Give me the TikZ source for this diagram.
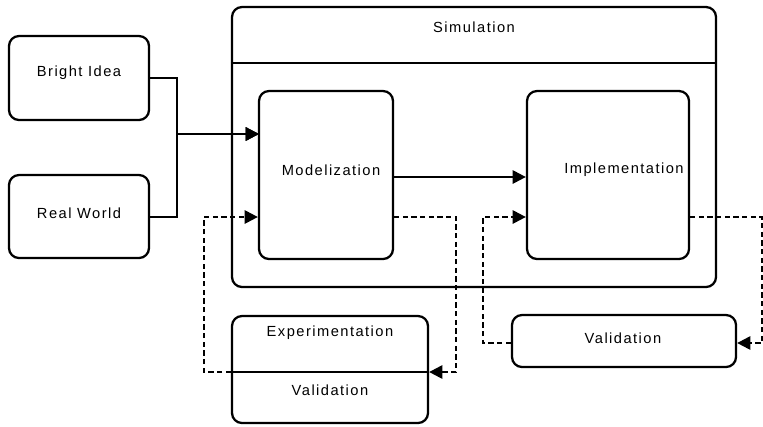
\documentclass[tikz,border=0pt]{standalone}
\usepackage{fontspec}
\setmainfont{Liberation Sans}[LetterSpace=10]
\usetikzlibrary{arrows.meta,calc}
\usetikzlibrary{positioning}
\definecolor{fg}{rgb}{0,0,0}
\tikzstyle{box}=[draw=fg, line width=1.7pt, rounded corners=7.5pt,
anchor=center, text centered, text=fg, font=\fontsize{11}{13}\selectfont]
\tikzstyle{lbl}=[text=fg, font=\fontsize{11}{13}\selectfont]
\tikzstyle{myarrow}=[-{Triangle[length=10pt,width=10pt]}, line width=1.7pt]
\tikzstyle{loop}=[myarrow, dash pattern=on 4pt off 2.5pt]

\begin{document}
\begin{tikzpicture}[x=0.75pt, y=-0.75pt]
    \useasboundingbox (0,0) rectangle (763,426);

    \node[box, minimum width=105pt, minimum height=63pt] (bright) at (79,78) {};
    \node[lbl] (brightlbl) at (79,73) {Bright Idea};
    \node[box, minimum width=105pt, minimum height=62.25pt] (real) at (79,216.5) {};
    \node[lbl] (reallbl) at (79,213) {Real World};

    % simulation container
    \node[box, minimum width=363pt, minimum height=210pt] (sim) at (474,147) {};
    \node[lbl] (simlbl) at (474,27) {Simulation};
    \coordinate (simline) at (474,63);
    \draw[line width=1.7pt] (sim.west |- simline) -- (sim.east |- simline);

    \node[box, minimum width=100.5pt, minimum height=126pt] (model) at (326,175) {};
    \node[lbl] (modellbl) at (331,170) {Modelization};
    \node[box, minimum width=121.5pt, minimum height=126pt] (impl) at (608,175) {};
    \node[lbl] (impllbl) at (624,170) {Implementation};

    % validation boxes
    \node[box, minimum width=147pt, minimum height=80.25pt] (exper) at (330,369.5) {};
    \node[lbl] (experlbl) at (330,333) {Experimentation};
    \node[lbl] (expvallbl) at (330,390) {Validation};
    \coordinate (expline) at (330,372);
    \draw[line width=1.7pt] (exper.west |- expline) -- (exper.east |- expline);
    \node[box, minimum width=168pt, minimum height=39pt] (valid) at (624,341) {};
    \node[lbl] (validlbl) at (623,338) {Validation};

    % inputs
    \coordinate (modelin) at (259,134);
    \draw[myarrow] (bright.east |- 0,78) -| (177,134) -- (modelin);
    \draw[myarrow] (real.east |- 0,217) -| (177,134) -- (modelin);

    \draw[myarrow] (model.east |- 0,177) -- (impl.west |- 0,177);

    % loops
    \draw[loop] (model.east |- 0,217) -| (456,372) -- (exper.east |- expline);
    \draw[loop] (exper.west |- expline) -| (204,217) -- (model.west |- 0,217);
    \draw[loop] (impl.east |- 0,217) -| (762,343) -- (valid.east |- 0,343);
    \draw[loop] (valid.west |- 0,343) -| (483,217) -- (impl.west |- 0,217);
\end{tikzpicture}
\end{document}
